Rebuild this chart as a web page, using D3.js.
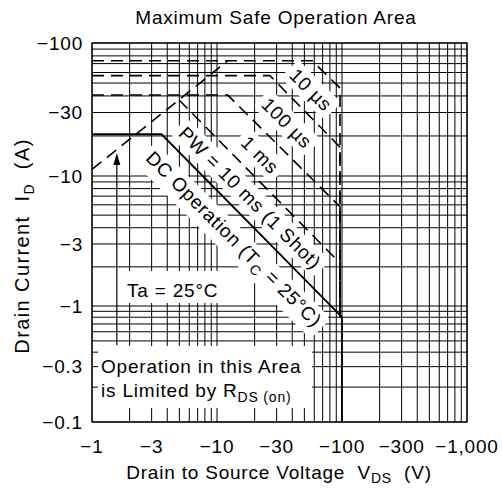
<!DOCTYPE html>
<html>
<head>
<meta charset="utf-8">
<script src="https://cdn.jsdelivr.net/npm/d3@7"></script>
<style>
  body { margin: 0; background: #fff; }
  text { font-family: "Liberation Sans", Arial, sans-serif; fill: #000; font-size: 19px; letter-spacing: 0.8px; white-space: pre; }
</style>
</head>
<body>
<svg id="chart" width="502" height="488"></svg>
<script>
// axis ticks (magnitudes, labels are negative values)
const xTicks = [1, 3, 10, 30, 100, 300, 1000];
const xTickLabels = ["−1", "−3", "−10", "−30", "−100", "−300", "−1,000"];
const yTicks = [100, 30, 10, 3, 1, 0.3, 0.1];
const yTickLabels = ["−100", "−30", "−10", "−3", "−1", "−0.3", "−0.1"];

// SOA boundaries, [|VDS| (V), |ID| (A)]
const rdsOn = [[1, 11.2], [12.2, 73.6]];
const pw10us = [[1, 73.6], [57.5, 73.6], [96.4, 45.9], [96.4, 0.8]];
const pw100us = [[1, 56.8], [26.5, 56.8], [96.4, 16.5], [96.4, 0.8]];
const pw1ms = [[1, 40.6], [12.2, 40.6], [96.4, 5.8], [96.4, 0.8]];
const pw10ms = [[4.97, 37.3], [96.4, 2.14], [96.4, 0.8]];
const dcOp = [[1, 20.6], [3.6, 20.6], [100, 0.8], [100, 0.1]];

// annotation anchors (data units)
const curveLabels = [
  { parts: [{ t: "10 µs" }], v: 56.5, i: 44.4 },
  { parts: [{ t: "100 µs" }], v: 36.3, i: 25.0 },
  { parts: [{ t: "1 ms" }], v: 22.1, i: 14.4 },
  { parts: [{ t: "PW = 10 ms (1 Shot)" }], v: 18.4, i: 6.78 },
  { parts: [{ t: "DC Operation (T" }, { t: "C", sub: true }, { t: " = 25°C)" }], v: 13.7, i: 3.27 }
];
const arrow = { v: 1.58, from: 0.46, to: 14.9 };

const plot = { left: 92, right: 467, top: 43, bottom: 422 };

const svg = d3.select("#chart");

const x = d3.scaleLog().domain([1, 1000]).range([plot.left, plot.right]);
// the scanned axis is not quite uniform, so one segment per decade
const y = d3.scaleLog().domain([0.1, 1, 10, 100]).range([plot.bottom, 306, 176, plot.top]);

// grid
const grid = svg.append("g")
    .attr("stroke", "#000")
    .attr("stroke-width", 1);

grid.selectAll(".vx")
    .data(x.ticks())
    .join("line")
    .attr("x1", d => x(d)).attr("x2", d => x(d))
    .attr("y1", plot.top).attr("y2", plot.bottom);

grid.selectAll(".hy")
    .data(y.ticks())
    .join("line")
    .attr("x1", plot.left).attr("x2", plot.right)
    .attr("y1", d => y(d)).attr("y2", d => y(d));

const maskLayer = svg.append("g").attr("fill", "#fff");
const curveLayer = svg.append("g").attr("fill", "none").attr("stroke", "#000");
const textLayer = svg.append("g");

const line = d3.line()
    .x(d => x(d[0]))
    .y(d => y(d[1]));

[rdsOn, pw10us, pw100us, pw1ms, pw10ms].forEach(d => {
    curveLayer.append("path")
        .attr("d", line(d))
        .attr("stroke-width", 1.6)
        .attr("stroke-dasharray", "12,7");
});

curveLayer.append("path")
    .attr("d", line(dcOp))
    .attr("stroke-width", 1.8);

// arrow pointing at the RDS(on) limit
const ax = x(arrow.v);
curveLayer.append("line")
    .attr("x1", ax).attr("x2", ax)
    .attr("y1", y(arrow.from)).attr("y2", y(arrow.to) + 10)
    .attr("stroke-width", 1.2);
curveLayer.append("path")
    .attr("d", `M${ax},${y(arrow.to)} l-3.5,12 l7,0 z`)
    .attr("fill", "#000")
    .attr("stroke", "none");

function addParts(t, parts, shift = 5) {
    let prevSub = false;
    parts.forEach((p, k) => {
        const s = t.append("tspan").text(p.t);
        if (p.sub) s.attr("font-size", 14).attr("dy", shift);
        else if (k > 0 && prevSub) s.attr("dy", -shift);
        prevSub = !!p.sub;
    });
}

// rotated curve labels with white boxes
curveLabels.forEach(l => {
    const tr = `translate(${x(l.v)},${y(l.i)}) rotate(45)`;
    const g = textLayer.append("g").attr("transform", tr);
    const t = g.append("text").attr("text-anchor", "middle").attr("dy", "0.35em");
    addParts(t, l.parts);
    const b = t.node().getBBox();
    maskLayer.append("rect")
        .attr("transform", tr)
        .attr("x", b.x - 5).attr("y", b.y - 2)
        .attr("width", b.width + 10).attr("height", b.height + 4)
        .attr("rx", 6);
});

// Ta box
maskLayer.append("rect")
    .attr("x", plot.left + 1).attr("y", 271)
    .attr("width", 136).attr("height", 32);
textLayer.append("text").attr("x", 127).attr("y", 297).text("Ta = 25°C");

// RDS(on) note
maskLayer.append("rect")
    .attr("x", 98).attr("y", 346)
    .attr("width", 214).attr("height", 62);
textLayer.append("text").attr("x", 101).attr("y", 373).text("Operation in this Area");
const note = textLayer.append("text").attr("x", 101).attr("y", 397);
addParts(note, [{ t: "is Limited by R" }, { t: "DS (on)", sub: true }]);

// frame
svg.append("rect")
    .attr("x", plot.left).attr("y", plot.top)
    .attr("width", plot.right - plot.left).attr("height", plot.bottom - plot.top)
    .attr("fill", "none").attr("stroke", "#000").attr("stroke-width", 1.2);

// tick labels
svg.append("g").selectAll("text")
    .data(xTicks)
    .join("text")
    .attr("x", d => x(d)).attr("y", 453)
    .attr("text-anchor", "middle")
    .text((d, i) => xTickLabels[i]);

svg.append("g").selectAll("text")
    .data(yTicks)
    .join("text")
    .attr("x", 83).attr("y", d => y(d))
    .attr("dy", "0.35em")
    .attr("text-anchor", "end")
    .text((d, i) => yTickLabels[i]);

// titles
svg.append("text")
    .attr("x", 276).attr("y", 24)
    .attr("text-anchor", "middle")
    .text("Maximum Safe Operation Area");

const xt = svg.append("text")
    .attr("x", 279).attr("y", 479)
    .attr("text-anchor", "middle");
addParts(xt, [{ t: "Drain to Source Voltage  V" }, { t: "DS", sub: true }, { t: "  (V)" }], 4);

const yt = svg.append("text")
    .attr("transform", "translate(29,246) rotate(-90)")
    .attr("text-anchor", "middle")
    .style("font-size", "20px")
    .style("letter-spacing", "1.4px");
addParts(yt, [{ t: "Drain Current  I" }, { t: "D", sub: true }, { t: "  (A)" }]);
</script>
</body>
</html>
